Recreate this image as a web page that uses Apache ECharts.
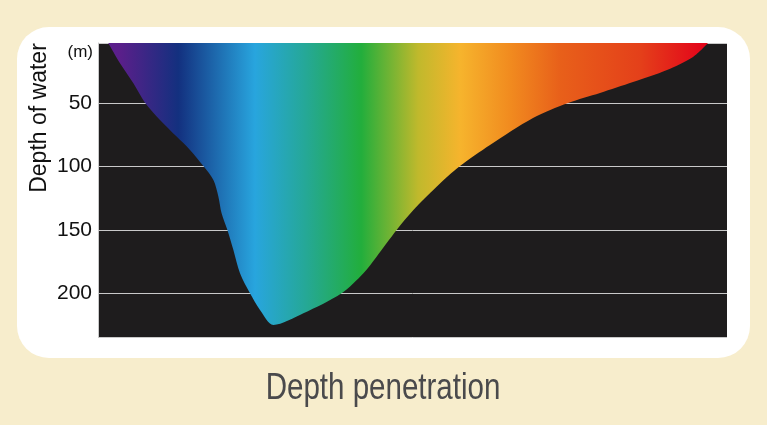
<!DOCTYPE html>
<html>
<head>
<meta charset="utf-8">
<script src="https://cdn.jsdelivr.net/npm/echarts@6/dist/echarts.min.js"></script>
<style>
html,body{margin:0;padding:0;background:#f7edcc;}
#chart{width:767px;height:425px;}
</style>
</head>
<body>
<div id="chart"></div>
<script>
// Wavelength (nm, approximate, along the spectrum) and depth of penetration (m)
const wavelengths = [400, 406, 412.7, 418.5, 426, 434.3, 441, 447.7, 452.7, 455.2, 456.8, 459.7, 462.7, 466, 471, 476, 482.7,
  497.7, 516.8, 527.7, 534.3, 544.3, 552.7, 564.3, 576, 591, 612.5, 630, 646, 662.5, 679.5, 692.5, 700];
const depths = [2, 18.4, 34.2, 49.5, 63.2, 76.3, 86.8, 99.5, 110.5, 123.7, 136.8, 150, 165.8, 184.2, 200, 213.2, 225,
  215.8, 200, 184.2, 171.1, 150, 134.2, 115.8, 99.5, 82.9, 61.6, 49.7, 41.8, 33.2, 23.7, 13.4, 2.4];
const depthTicks = [50, 100, 150, 200];
const spectrumStops = [
  [0.00, '#5c1f8d'], [0.02, '#5a1f8a'], [0.117, '#13307f'], [0.245, '#28a5de'],
  [0.33, '#25a896'], [0.422, '#22ae3c'], [0.517, '#c0b92c'], [0.587, '#f6b42d'],
  [0.67, '#f18b1f'], [0.753, '#e8601a'], [0.887, '#e4401a'], [0.987, '#e3071a'], [1, '#e3061a']
];

const points = wavelengths.map((w, i) => [w, depths[i]]);
const chart = echarts.init(document.getElementById('chart'), null, {renderer: 'canvas'});
const sans = '"Liberation Sans", Arial, sans-serif';

chart.setOption({
  backgroundColor: '#f7edcc',
  animation: false,
  grid: {
    left: 98, right: 40, top: 43, bottom: 88,
    show: true, backgroundColor: '#1e1c1d', borderWidth: 0
  },
  xAxis: {
    type: 'value', min: 395, max: 709.5, show: false
  },
  yAxis: {
    type: 'value', inverse: true, min: 2.4, max: 234.5, splitNumber: 5,
    axisLine: {show: true, lineStyle: {color: '#c9c9c9', width: 1}},
    axisTick: {show: false},
    axisLabel: {
      showMinLabel: false, showMaxLabel: false, margin: 6,
      fontFamily: sans, fontSize: 21, color: '#111',
      formatter: v => depthTicks.indexOf(v) >= 0 ? String(v) : ''
    },
    splitLine: {show: true, lineStyle: {color: '#c9c9c9', width: 1}}
  },
  graphic: [
    {type: 'rect', z: -10, shape: {x: 17, y: 27, width: 733, height: 331, r: 32}, style: {fill: '#ffffff'}},
    {type: 'text', x: 93, y: 52, style: {text: '(m)', font: '17px ' + sans, fill: '#111', textAlign: 'right', textVerticalAlign: 'middle'}},
    {type: 'text', x: 40, y: 118, rotation: Math.PI / 2, style: {text: 'Depth of water', font: '23px ' + sans, fill: '#111', textAlign: 'center', textVerticalAlign: 'middle'}},
    {type: 'text', x: 383, y: 389, scaleX: 0.82, style: {text: 'Depth penetration', font: '36px ' + sans, fill: '#4a4a4c', textAlign: 'center', textVerticalAlign: 'middle'}}
  ],
  series: [{
    type: 'line',
    data: points,
    showSymbol: false,
    smooth: 0.3,
    lineStyle: {width: 0},
    areaStyle: {
      origin: 'start',
      opacity: 1,
      color: new echarts.graphic.LinearGradient(0, 0, 1, 0, spectrumStops.map(s => ({offset: s[0], color: s[1]})))
    },
    z: 3
  }]
});
</script>
</body>
</html>
